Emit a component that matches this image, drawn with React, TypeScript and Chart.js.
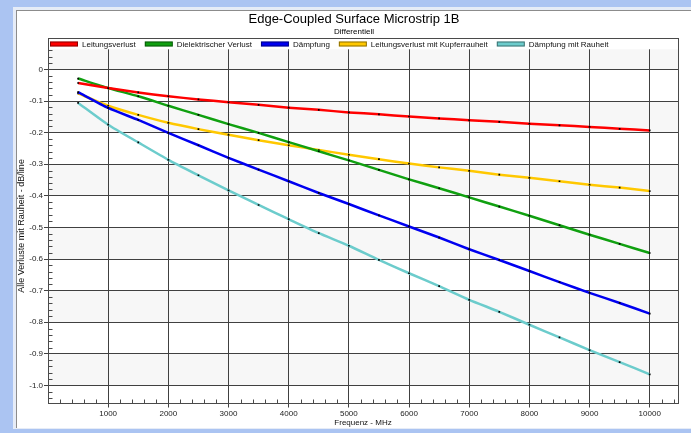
import React, { useEffect, useRef } from "react";
import { Chart, registerables } from "chart.js";

Chart.register(...registerables);

// ---------- data ----------
const frequenciesMHz = [500, 1000, 1500, 2000, 2500, 3000, 3500, 4000, 4500, 5000, 5500, 6000, 6500, 7000, 7500, 8000, 8500, 9000, 9500, 10000];

const leitungsverlust = [-0.043, -0.059, -0.073, -0.085, -0.095, -0.104, -0.112, -0.121, -0.128, -0.136, -0.142, -0.149, -0.155, -0.161, -0.166, -0.172, -0.177, -0.182, -0.188, -0.193];
const dielektrischerVerlust = [-0.029, -0.059, -0.085, -0.115, -0.144, -0.173, -0.201, -0.23, -0.259, -0.288, -0.318, -0.348, -0.376, -0.405, -0.434, -0.463, -0.493, -0.523, -0.552, -0.581];
const daempfung = [-0.072, -0.122, -0.16, -0.201, -0.24, -0.28, -0.317, -0.354, -0.391, -0.426, -0.462, -0.497, -0.532, -0.569, -0.603, -0.638, -0.673, -0.707, -0.739, -0.773];
const leitungsverlustKupferrauheit = [-0.076, -0.115, -0.144, -0.169, -0.189, -0.207, -0.224, -0.24, -0.255, -0.27, -0.284, -0.298, -0.31, -0.321, -0.333, -0.343, -0.354, -0.365, -0.374, -0.385];
const daempfungRauheit = [-0.106, -0.175, -0.231, -0.286, -0.335, -0.383, -0.429, -0.474, -0.518, -0.558, -0.603, -0.645, -0.686, -0.729, -0.767, -0.808, -0.848, -0.888, -0.926, -0.965];

const seriesLabels = ["Leitungsverlust", "Dielektrischer Verlust", "Dämpfung", "Leitungsverlust mit Kupferrauheit", "Dämpfung mit Rauheit"];
const seriesColors = ["#ff0000", "#10a010", "#0000f0", "#ffc800", "#6ccccc"];
const seriesValues = [leitungsverlust, dielektrischerVerlust, daempfung, leitungsverlustKupferrauheit, daempfungRauheit];

const xTickValues = [1000, 2000, 3000, 4000, 5000, 6000, 7000, 8000, 9000, 10000];
const yTickValues = [0, -0.1, -0.2, -0.3, -0.4, -0.5, -0.6, -0.7, -0.8, -0.9, -1.0];
const yTickLabels = ["0", "-0.1", "-0.2", "-0.3", "-0.4", "-0.5", "-0.6", "-0.7", "-0.8", "-0.9", "-1.0"];

const chartTitle = "Edge-Coupled Surface Microstrip 1B";
const chartSubtitle = "Differentiell";
const xAxisTitle = "Frequenz - MHz";
const yAxisTitle = "Alle Verluste mit Rauheit - dB/line";

const FONT = '"Liberation Sans", Arial, Helvetica, sans-serif';

export default function App() {
  const ref = useRef<HTMLCanvasElement>(null);

  useEffect(() => {
    const canvas = ref.current!;
    const W = 691;
    const H = 433;

    const decor = {
      id: "decor",
      beforeDraw(chart: any) {
        const ctx = chart.ctx;
        const { left, right, top, bottom } = chart.chartArea;
        const ys = chart.scales.y;
        ctx.save();
        ctx.fillStyle = "#abc4f2";
        ctx.fillRect(0, 0, W, H);
        ctx.fillStyle = "#e6ecf7";
        ctx.fillRect(13, 7, W - 13, 422);
        ctx.fillStyle = "#ffffff";
        ctx.fillRect(16, 10, W - 16, 418);
        ctx.strokeStyle = "#8c8c8c";
        ctx.lineWidth = 1;
        ctx.beginPath();
        ctx.moveTo(16.5, 10);
        ctx.lineTo(16.5, 428);
        ctx.moveTo(16, 10.5);
        ctx.lineTo(W, 10.5);
        ctx.stroke();

        // alternating bands between major y grid lines
        for (let k = -11; k <= 1; k++) {
          if (k % 2 !== 0) continue;
          const lo = Math.max(k * 0.1, ys.min);
          const hi = Math.min((k + 1) * 0.1, ys.max);
          if (hi <= lo) continue;
          const yTop = Math.max(ys.getPixelForValue(hi), top);
          const yBot = Math.min(ys.getPixelForValue(lo), bottom);
          ctx.fillStyle = "#f7f7f7";
          ctx.fillRect(left, yTop, right - left, yBot - yTop);
        }
        ctx.restore();
      },
      afterDraw(chart: any) {
        const ctx = chart.ctx;
        const { left, right, top, bottom } = chart.chartArea;
        const xs = chart.scales.x;
        const ys = chart.scales.y;
        const boxTop = 38.5;
        ctx.save();

        // frame around legend + plot
        ctx.strokeStyle = "#4a4a4a";
        ctx.lineWidth = 1;
        const L = Math.round(left) + 0.5;
        const R = Math.round(right) + 0.5;
        const B = Math.round(bottom) + 0.5;
        ctx.strokeRect(L, boxTop, R - L, B - boxTop);

        // minor ticks
        ctx.beginPath();
        for (let i = 1; i * 200 <= xs.max; i++) {
          if (i % 5 === 0) continue;
          const px = Math.round(xs.getPixelForValue(i * 200)) + 0.5;
          ctx.moveTo(px, B);
          ctx.lineTo(px, B - 4);
        }
        const iMin = Math.ceil(ys.min / 0.02 - 1e-9);
        const iMax = Math.floor(ys.max / 0.02 + 1e-9);
        for (let i = iMin; i <= iMax; i++) {
          if (i % 5 === 0) continue;
          const py = Math.round(ys.getPixelForValue(i * 0.02)) + 0.5;
          ctx.moveTo(L, py);
          ctx.lineTo(L + 4, py);
        }
        ctx.stroke();

        // legend
        ctx.font = `8px ${FONT}`;
        ctx.textBaseline = "middle";
        ctx.textAlign = "left";
        let lx = L + 1.5;
        const ly = 44.5;
        chart.data.datasets.forEach((ds: any) => {
          ctx.fillStyle = ds.borderColor;
          ctx.fillRect(lx, ly - 3, 28, 5);
          ctx.strokeStyle = "rgba(0,0,0,0.45)";
          ctx.strokeRect(lx + 0.5, ly - 2.5, 27, 4);
          ctx.fillStyle = "#111";
          ctx.fillText(ds.label, lx + 32, ly);
          lx += 32 + ctx.measureText(ds.label).width + 9;
        });

        // titles
        ctx.fillStyle = "#000";
        ctx.textAlign = "center";
        ctx.font = `13px ${FONT}`;
        ctx.fillText(chartTitle, 354, 19);
        ctx.font = `8px ${FONT}`;
        ctx.fillText(chartSubtitle, 354, 31.5);
        ctx.fillStyle = "#111";
        ctx.fillText(xAxisTitle, (left + right) / 2, 423);
        ctx.translate(22, (top + bottom) / 2);
        ctx.rotate(-Math.PI / 2);
        ctx.font = `9px ${FONT}`;
        ctx.fillText(yAxisTitle, 0, 0);
        ctx.restore();
      },
    };

    const chart = new Chart(canvas, {
      type: "line",
      data: {
        labels: frequenciesMHz,
        datasets: seriesValues.map((vals, i) => ({
          label: seriesLabels[i],
          data: frequenciesMHz.map((f, j) => ({ x: f, y: vals[j] })),
          borderColor: seriesColors[i],
          backgroundColor: seriesColors[i],
          borderWidth: 2.5,
          pointRadius: 1.2,
          pointStyle: "rect",
          pointBackgroundColor: "#000",
          pointBorderWidth: 0,
          tension: 0.2,
          fill: false,
        })),
      },
      options: {
        animation: false,
        responsive: false,
        devicePixelRatio: 1,
        layout: { padding: { left: 18, right: 13, top: 49.3, bottom: 10.5 } },
        plugins: {
          legend: { display: false },
          title: { display: false },
          tooltip: { enabled: false },
        },
        scales: {
          x: {
            type: "linear",
            min: 0,
            max: 10470,
            afterBuildTicks: (scale: any) => {
              scale.ticks = xTickValues.map((v) => ({ value: v }));
            },
            afterFit: (scale: any) => {
              scale.height = 20;
            },
            ticks: {
              autoSkip: false,
              maxRotation: 0,
              padding: 1,
              color: "#222",
              font: { family: FONT, size: 8 },
              callback: (v: any) => String(v),
            },
            grid: { color: "#404040", lineWidth: 1, tickLength: 5, tickColor: "#404040" },
            border: { display: false },
          },
          y: {
            type: "linear",
            min: -1.054,
            max: 0.0636,
            afterBuildTicks: (scale: any) => {
              scale.ticks = yTickValues.map((v) => ({ value: v }));
            },
            afterFit: (scale: any) => {
              scale.width = 30;
            },
            ticks: {
              autoSkip: false,
              padding: 1,
              color: "#222",
              font: { family: FONT, size: 8 },
              callback: (v: any) => {
                const idx = yTickValues.findIndex((t) => Math.abs(t - v) < 1e-9);
                return idx >= 0 ? yTickLabels[idx] : "";
              },
            },
            grid: { color: "#404040", lineWidth: 1, tickLength: 4, tickColor: "#404040" },
            border: { display: false },
          },
        },
      },
      plugins: [decor],
    });

    return () => chart.destroy();
  }, []);

  return (
    <div style={{ position: "fixed", left: 0, top: 0, width: 691, height: 433 }}>
      <canvas ref={ref} width={691} height={433} style={{ display: "block" }} />
    </div>
  );
}
